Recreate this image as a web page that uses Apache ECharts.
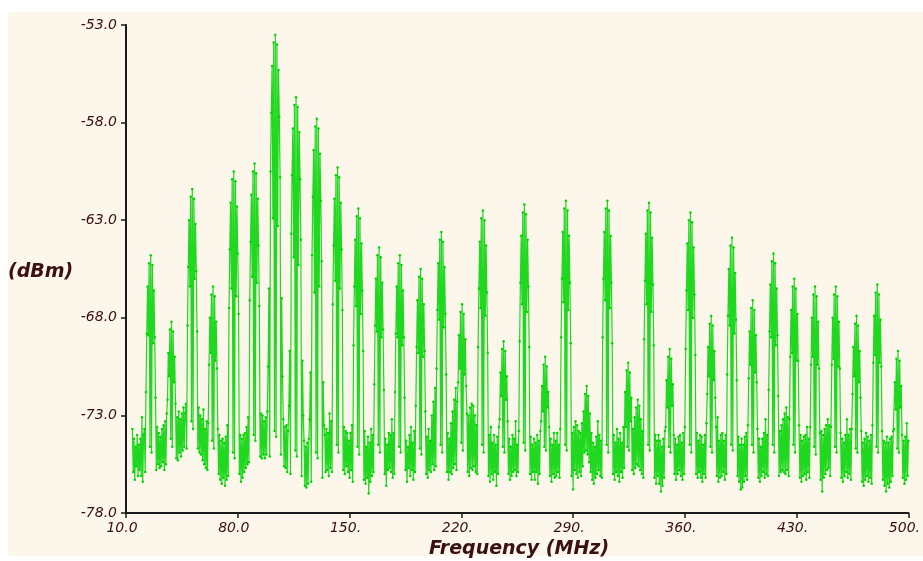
<!DOCTYPE html>
<html>
<head>
<meta charset="utf-8">
<title>Spectrum 10 - 500 MHz</title>
<script src="https://cdn.jsdelivr.net/npm/echarts@6.0.0/dist/echarts.min.js"></script>
<style>
html, body { margin: 0; padding: 0; background: #ffffff; }
#chart { width: 923px; height: 561px; }
</style>
</head>
<body>
<div id="chart"></div>
<script>
// sweep is sampled every 0.5 MHz, one row = one 13 MHz harmonic cell (26 samples)
var STEP = 0.5;
var CELL = 13;

// 14.0 - 18.5 MHz
var leadStart = 14;
var leadLevels = [-73.7,-75.9,-74.2,-76.3,-74.6,-75.6,-74.0,-76.1,-74.5,-75.8];

// 19.0 - 148.5 MHz
var lowStart = 19;
var lowCells = [
  [-74.2,-76.1,-73.1,-76.4,-74.0,-73.7,-75.9,-71.8,-68.8,-66.4,-68.9,-65.2,-74.6,-64.8,-74.9,-65.3,-69.3,-66.6,-69.0,-72.1,-75.8,-73.6,-75.5,-73.9,-75.7,-74.1],
  [-75.6,-73.7,-75.4,-73.5,-75.8,-73.3,-75.5,-72.9,-72.2,-69.8,-71.0,-68.6,-74.2,-68.2,-74.6,-68.7,-71.3,-70.0,-72.4,-75.2,-73.1,-75.3,-72.8,-74.9,-73.2,-75.1],
  [-72.9,-74.8,-72.6,-74.6,-72.9,-72.4,-74.7,-68.4,-65.4,-63.0,-66.4,-61.8,-73.3,-61.4,-73.7,-61.9,-66.0,-63.2,-65.6,-68.7,-74.7,-72.6,-74.9,-73.0,-75.0,-73.2],
  [-75.3,-72.7,-75.5,-73.7,-75.7,-73.3,-75.8,-73.4,-70.4,-68.0,-69.8,-66.8,-74.3,-66.4,-74.7,-66.9,-70.2,-68.2,-70.6,-73.7,-76.0,-74.0,-76.3,-74.3,-76.5,-74.2],
  [-76.2,-74.4,-76.6,-74.1,-76.3,-73.5,-76.1,-67.5,-64.5,-62.1,-66.5,-60.9,-74.9,-60.5,-75.2,-61.0,-66.9,-62.3,-64.7,-67.8,-76.0,-74.0,-76.4,-74.2,-76.2,-74.0],
  [-75.9,-73.9,-75.7,-73.6,-75.5,-73.1,-75.4,-67.1,-64.1,-61.7,-65.9,-60.5,-74.0,-60.1,-74.3,-60.6,-66.2,-61.9,-64.3,-67.4,-75.1,-72.9,-75.2,-73.0,-75.0,-73.3],
  [-75.2,-73.1,-75.0,-72.8,-70.5,-66.5,-75.1,-60.5,-57.5,-55.1,-62.9,-53.9,-73.8,-53.5,-74.1,-54.0,-63.3,-55.3,-57.7,-60.8,-75.0,-67.0,-71.0,-73.2,-75.6,-73.6],
  [-75.7,-73.5,-75.9,-73.8,-72.5,-69.7,-76.0,-63.7,-60.7,-58.3,-64.9,-57.1,-74.8,-56.7,-75.1,-57.2,-65.3,-58.5,-60.9,-64.0,-76.1,-70.2,-73.0,-74.3,-76.6,-74.6],
  [-76.7,-74.4,-76.5,-74.2,-73.2,-70.8,-76.4,-64.8,-61.8,-59.4,-66.7,-58.2,-74.9,-57.8,-75.2,-58.3,-66.4,-59.6,-62.0,-65.1,-76.2,-71.3,-73.5,-74.0,-75.9,-73.7],
  [-75.8,-73.9,-76.1,-72.9,-75.7,-73.3,-75.9,-67.3,-64.3,-61.9,-66.1,-60.7,-74.5,-60.3,-74.9,-60.8,-66.5,-62.1,-64.5,-67.6,-75.8,-73.6,-76.0,-73.8,-75.6,-73.9]
];

// 149.0 - 330.5 MHz
var midStart = 149;
var midCells = [
  [-75.9,-74.3,-76.2,-73.9,-75.8,-73.5,-76.4,-69.4,-66.4,-64.0,-67.4,-62.8,-74.6,-62.4,-75.0,-62.9,-67.8,-64.2,-66.6,-69.7,-76.3,-73.8,-76.5,-74.6,-76.2,-74.1],
  [-77.0,-74.4,-76.4,-73.7,-76.1,-74.0,-75.9,-71.4,-68.4,-66.0,-68.7,-64.8,-74.5,-64.4,-74.9,-64.9,-69.0,-66.2,-68.6,-71.7,-76.0,-74.2,-76.6,-74.5,-75.8,-73.9],
  [-75.7,-74.0,-75.9,-73.2,-76.2,-73.9,-76.0,-71.8,-68.8,-66.4,-69.0,-65.2,-74.6,-64.8,-74.9,-65.3,-69.4,-66.6,-69.0,-72.1,-75.8,-74.3,-76.4,-74.6,-75.7,-74.0],
  [-76.1,-73.6,-75.8,-74.4,-76.3,-73.8,-75.9,-72.5,-69.5,-67.1,-69.8,-65.9,-74.7,-65.5,-75.0,-66.0,-70.0,-67.3,-69.7,-72.8,-76.0,-74.1,-76.2,-73.7,-75.8,-74.3],
  [-75.9,-73.0,-75.5,-72.3,-75.8,-71.6,-75.6,-70.6,-67.6,-65.2,-68.1,-64.0,-74.5,-63.6,-74.9,-64.1,-68.5,-65.4,-67.8,-70.9,-75.9,-73.9,-76.3,-74.2,-75.9,-73.4],
  [-76.0,-72.8,-75.7,-72.2,-75.5,-71.6,-75.8,-72.3,-71.3,-68.9,-70.6,-67.7,-74.4,-67.3,-74.8,-67.8,-70.9,-69.1,-71.5,-72.9,-75.9,-73.0,-76.1,-72.6,-75.7,-72.4],
  [-75.8,-72.5,-75.6,-73.0,-75.9,-73.5,-76.0,-69.5,-66.5,-64.1,-67.5,-62.9,-74.5,-62.5,-74.9,-63.0,-67.9,-64.3,-66.7,-69.8,-76.1,-74.0,-76.4,-73.6,-76.0,-74.4],
  [-76.3,-74.0,-75.9,-74.5,-76.6,-74.1,-76.0,-73.6,-73.2,-70.8,-72.0,-69.6,-74.6,-69.2,-74.9,-69.7,-72.2,-71.0,-73.3,-76.0,-74.2,-76.3,-74.6,-76.1,-74.0,-75.9],
  [-74.2,-75.8,-73.3,-76.1,-74.5,-75.9,-73.8,-69.2,-66.2,-63.8,-67.3,-62.6,-74.4,-62.2,-74.8,-62.7,-67.7,-64.0,-66.4,-69.5,-76.0,-74.1,-76.3,-74.5,-75.9,-74.2],
  [-76.3,-74.4,-75.9,-74.0,-76.5,-74.3,-76.0,-73.8,-73.3,-71.5,-72.8,-70.4,-74.6,-70.0,-74.8,-70.5,-72.6,-71.8,-73.6,-76.1,-74.2,-76.4,-74.5,-76.0,-73.9,-76.2],
  [-74.3,-76.1,-73.9,-75.9,-74.5,-76.2,-73.7,-69.0,-66.0,-63.6,-67.2,-62.4,-74.5,-62.0,-74.8,-62.5,-67.6,-63.8,-66.2,-69.3,-76.1,-73.9,-76.8,-73.6,-75.8,-73.3],
  [-76.0,-73.5,-76.2,-73.8,-75.9,-73.9,-76.1,-73.4,-75.6,-72.8,-74.9,-71.9,-74.8,-71.5,-75.0,-72.0,-75.4,-72.9,-75.9,-73.9,-76.3,-74.4,-76.5,-74.6,-76.2,-74.1],
  [-76.0,-73.3,-75.8,-74.0,-76.1,-74.3,-76.2,-69.0,-66.0,-63.6,-67.1,-62.4,-74.5,-62.0,-74.9,-62.5,-67.5,-63.8,-66.2,-69.3,-76.0,-74.0,-76.3,-74.4,-75.9,-73.7],
  [-76.1,-74.2,-76.4,-73.9,-75.9,-74.4,-76.2,-73.6,-75.7,-71.8,-73.6,-70.7,-74.6,-70.3,-74.8,-70.8,-73.3,-72.1,-75.8,-73.7,-76.0,-73.1,-75.7,-72.6,-75.5,-72.2]
];

// 331.0 - 499.5 MHz
var highStart = 331;
var highCells = [
  [-75.6,-72.5,-75.8,-73.2,-76.0,-73.8,-76.2,-69.1,-66.1,-63.7,-67.3,-62.5,-74.5,-62.1,-74.8,-62.6,-67.7,-63.9,-66.3,-69.4,-76.2,-74.0,-76.5,-74.3,-76.1,-74.0],
  [-76.5,-74.3,-76.9,-74.6,-76.6,-74.2,-76.2,-73.8,-73.6,-71.2,-72.6,-70.0,-74.6,-69.6,-74.9,-70.1,-72.5,-71.4,-74.0,-76.0,-74.2,-76.3,-74.5,-76.0,-74.1,-75.8],
  [-74.0,-76.1,-74.4,-76.3,-73.9,-76.0,-73.6,-69.6,-66.6,-64.2,-67.6,-63.0,-74.5,-62.6,-74.9,-63.1,-68.0,-64.4,-66.8,-69.9,-76.0,-73.9,-76.2,-74.3,-75.9,-74.0],
  [-76.2,-74.1,-76.4,-74.5,-76.0,-74.0,-76.2,-73.4,-71.9,-69.5,-71.0,-68.3,-74.6,-67.9,-74.9,-68.4,-71.2,-69.7,-72.1,-73.6,-76.1,-73.1,-76.4,-74.3,-76.2,-74.0],
  [-76.1,-73.9,-75.9,-74.3,-76.3,-74.0,-76.0,-70.9,-67.9,-65.5,-68.4,-64.3,-74.5,-63.9,-74.8,-64.4,-68.8,-65.7,-68.1,-71.2,-76.1,-74.1,-76.4,-74.5,-76.8,-74.2],
  [-76.7,-74.5,-76.4,-74.1,-76.1,-73.9,-76.3,-73.5,-71.1,-68.7,-70.4,-67.5,-74.5,-67.1,-74.9,-67.6,-70.8,-68.9,-71.3,-73.7,-76.2,-74.2,-76.4,-74.6,-76.1,-74.2],
  [-75.9,-73.9,-76.2,-73.2,-76.0,-74.0,-76.1,-71.7,-68.7,-66.3,-69.0,-65.1,-74.5,-64.7,-74.9,-65.2,-69.4,-66.5,-68.9,-72.0,-76.1,-73.8,-75.9,-73.5,-75.8,-73.2],
  [-75.9,-72.9,-76.0,-72.6,-75.8,-73.1,-76.1,-73.2,-70.0,-67.6,-69.8,-66.4,-74.5,-66.0,-74.9,-66.5,-70.2,-67.8,-70.2,-73.5,-76.2,-74.0,-76.4,-74.3,-76.1,-74.1],
  [-76.0,-74.0,-76.3,-73.6,-75.9,-74.2,-76.2,-73.6,-70.4,-68.0,-70.0,-66.8,-74.6,-66.4,-75.0,-66.9,-70.4,-68.2,-70.6,-73.9,-76.3,-73.8,-76.9,-74.0,-76.2,-73.7],
  [-76.0,-73.5,-75.8,-73.2,-75.7,-73.5,-76.1,-73.6,-70.4,-68.0,-70.1,-66.8,-74.6,-66.4,-74.9,-66.9,-70.5,-68.2,-70.6,-73.9,-76.2,-74.2,-76.4,-74.4,-76.1,-74.0],
  [-75.9,-73.2,-76.2,-74.0,-76.0,-73.7,-76.3,-73.7,-71.9,-69.5,-71.0,-68.3,-74.7,-67.9,-74.9,-68.4,-71.3,-69.7,-72.1,-73.8,-76.4,-74.4,-76.6,-74.2,-76.3,-73.9],
  [-76.1,-74.1,-76.4,-74.3,-76.2,-74.0,-76.5,-73.5,-70.3,-67.9,-69.9,-66.7,-74.6,-66.3,-74.9,-66.8,-70.3,-68.1,-70.5,-73.8,-76.3,-74.3,-76.6,-74.4,-76.9,-74.1],
  [-76.5,-74.4,-76.7,-74.2,-76.4,-74.1,-76.1,-73.8,-73.7,-71.3,-72.7,-70.1,-74.7,-69.7,-74.9,-70.2,-72.6,-71.5,-74.0,-76.2,-74.3,-76.5,-74.1,-76.3,-73.4,-76.1]
];

// last sample
var tailFreq = 500;
var tailLevel = -74.3;

var labelColor = '#3b1010';
var traceColor = '#00d400';

var points = [];
leadLevels.forEach(function (v, i) {
  points.push([leadStart + i * STEP, v]);
});
function addCells(start, cells) {
  cells.forEach(function (row, r) {
    row.forEach(function (v, i) {
      points.push([start + r * CELL + i * STEP, v]);
    });
  });
}
addCells(lowStart, lowCells);
addCells(midStart, midCells);
addCells(highStart, highCells);
points.push([tailFreq, tailLevel]);

var tickLabel = {
  color: labelColor,
  fontFamily: 'DejaVu Sans',
  fontStyle: 'italic',
  fontSize: 14
};

var chart = echarts.init(document.getElementById('chart'));
chart.setOption({
  animation: false,
  backgroundColor: '#fdf7eb',
  graphic: [
    // white margin round the plot panel
    { type: 'rect', silent: true, z: 0, shape: { x: 0, y: 0, width: 923, height: 12 }, style: { fill: '#ffffff' } },
    { type: 'rect', silent: true, z: 0, shape: { x: 0, y: 0, width: 8, height: 561 }, style: { fill: '#ffffff' } },
    { type: 'rect', silent: true, z: 0, shape: { x: 0, y: 556, width: 923, height: 5 }, style: { fill: '#ffffff' } },
    {
      type: 'text', z: 10, x: 8, y: 272,
      style: {
        text: '(dBm)', fill: labelColor, align: 'left', verticalAlign: 'middle',
        font: 'italic bold 19px "DejaVu Sans"'
      }
    },
    {
      type: 'text', z: 10, x: 519, y: 549,
      style: {
        text: 'Frequency (MHz)', fill: labelColor, align: 'center', verticalAlign: 'middle',
        font: 'italic bold 19px "DejaVu Sans"'
      }
    }
  ],
  grid: { left: 126, right: 13, top: 25, bottom: 48 },
  xAxis: {
    type: 'value',
    min: 10,
    max: 500,
    interval: 70,
    axisLine: { show: true, lineStyle: { color: '#1a1a1a', width: 2 } },
    axisTick: { show: true, length: 5, lineStyle: { color: '#1a1a1a', width: 1.5 } },
    splitLine: { show: false },
    axisLabel: Object.assign({
      margin: 8,
      padding: [0, 8, 0, 0],
      formatter: function (v) { return v.toFixed(1).slice(0, 4); }
    }, tickLabel)
  },
  yAxis: {
    type: 'value',
    min: -78,
    max: -53,
    interval: 5,
    axisLine: { show: true, lineStyle: { color: '#1a1a1a', width: 2 } },
    axisTick: { show: true, length: 5, lineStyle: { color: '#1a1a1a', width: 1.5 } },
    splitLine: { show: false },
    axisLabel: Object.assign({
      margin: 9,
      padding: [4, 0, 0, 0],
      formatter: function (v) { return v.toFixed(1); }
    }, tickLabel)
  },
  series: [{
    type: 'line',
    data: points,
    silent: true,
    showSymbol: true,
    showAllSymbol: true,
    symbol: 'circle',
    symbolSize: 2.5,
    itemStyle: { color: traceColor },
    lineStyle: { color: '#1fd81f', width: 1.2 },
    emphasis: { disabled: true }
  }]
});
</script>
</body>
</html>
